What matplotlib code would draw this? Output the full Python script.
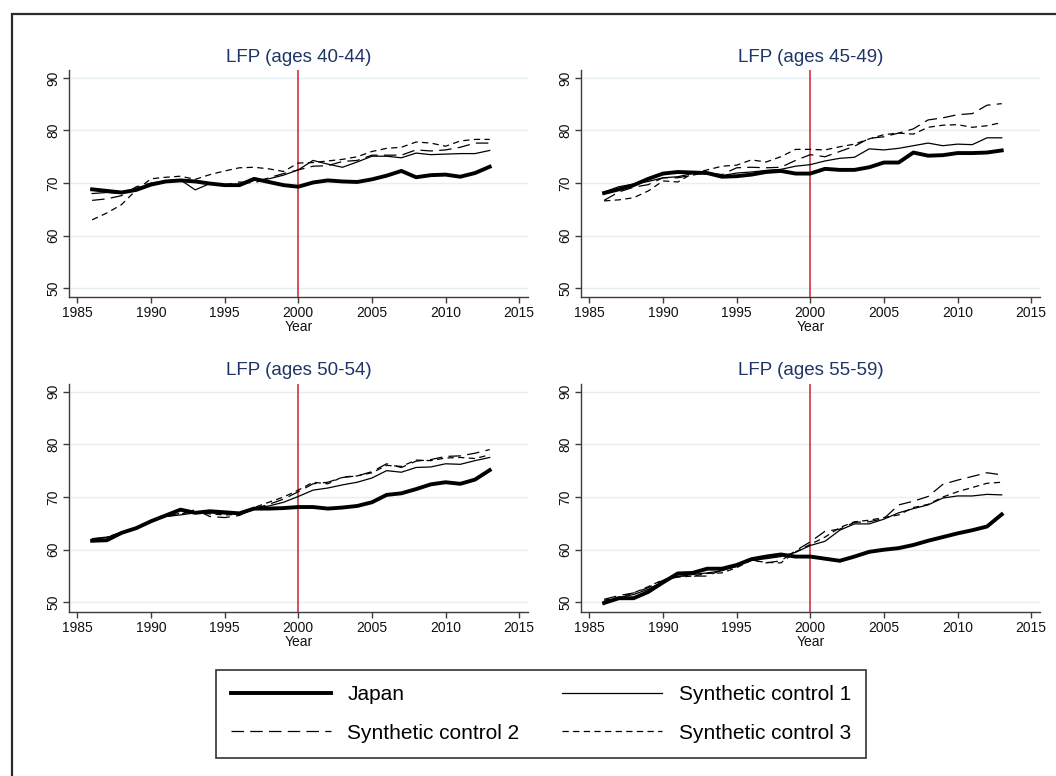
import matplotlib
matplotlib.use('Agg')
import matplotlib.pyplot as plt
from matplotlib.patches import Rectangle

plt.rcParams['font.family'] = ['Liberation Sans', 'DejaVu Sans']

years = list(range(1986, 2014))

# LFP ages 40-44
japan_40 = [68.8, 68.5, 68.2, 68.7, 69.7, 70.3, 70.5, 70.3, 69.9, 69.6, 69.6, 70.8, 70.2, 69.6,
            69.3, 70.1, 70.5, 70.3, 70.2, 70.7, 71.4, 72.3, 71.1, 71.5, 71.6, 71.2, 71.9, 73.1]
sc1_40 = [68.0, 68.2, 68.0, 69.0, 69.8, 70.4, 70.6, 68.7, 69.9, 69.5, 69.4, 70.5, 70.8, 71.5,
          72.5, 74.3, 73.6, 73.0, 74.0, 75.1, 75.1, 74.8, 75.7, 75.4, 75.5, 75.6, 75.6, 76.2]
sc2_40 = [66.7, 67.0, 67.6, 69.3, 70.0, 70.4, 70.6, 70.2, 69.8, 69.6, 70.2, 70.0, 71.0, 71.8,
          72.5, 73.2, 73.3, 74.1, 74.3, 75.3, 75.3, 75.3, 76.3, 76.1, 76.3, 76.8, 77.6, 77.6]
sc3_40 = [63.0, 64.3, 65.9, 68.7, 70.8, 71.1, 71.3, 70.7, 71.6, 72.3, 72.9, 73.0, 72.7, 72.2,
          73.8, 73.9, 74.2, 74.5, 75.0, 76.0, 76.6, 76.8, 77.8, 77.6, 77.0, 78.0, 78.3, 78.3]

# LFP ages 45-49
japan_45 = [68.1, 68.8, 69.6, 70.8, 71.8, 72.1, 72.0, 71.9, 71.2, 71.3, 71.6, 72.1, 72.3, 71.8,
            71.8, 72.7, 72.5, 72.5, 73.0, 73.9, 73.9, 75.8, 75.2, 75.3, 75.7, 75.7, 75.8, 76.2]
sc1_45 = [68.3, 69.3, 69.8, 70.3, 71.0, 71.2, 71.8, 71.9, 71.4, 71.9, 72.1, 72.4, 72.6, 73.2,
          73.5, 74.2, 74.7, 74.9, 76.5, 76.3, 76.6, 77.1, 77.6, 77.1, 77.4, 77.3, 78.6, 78.6]
sc2_45 = [66.7, 68.3, 69.2, 69.7, 71.0, 71.0, 71.5, 72.0, 71.6, 72.9, 73.0, 72.9, 73.0, 74.3,
          75.4, 75.0, 76.0, 77.0, 78.5, 78.8, 79.5, 80.3, 82.0, 82.4, 83.0, 83.2, 84.8, 85.1]
sc3_45 = [66.6, 66.8, 67.2, 68.5, 70.4, 70.2, 71.8, 72.5, 73.2, 73.4, 74.4, 74.0, 75.0, 76.4,
          76.4, 76.3, 76.9, 77.4, 78.4, 79.2, 79.5, 79.3, 80.6, 81.0, 81.1, 80.6, 80.9, 81.5]

# LFP ages 50-54
japan_50 = [61.7, 61.8, 63.2, 64.1, 65.4, 66.5, 67.6, 67.0, 67.3, 67.1, 66.9, 67.8, 67.8, 67.9,
            68.1, 68.1, 67.8, 68.0, 68.3, 69.0, 70.4, 70.7, 71.5, 72.4, 72.8, 72.5, 73.3, 75.1]
sc1_50 = [62.0, 62.3, 63.3, 64.2, 65.5, 66.3, 66.6, 67.0, 67.0, 66.8, 66.8, 67.9, 68.3, 69.0,
          70.1, 71.3, 71.7, 72.3, 72.8, 73.6, 75.0, 74.7, 75.6, 75.7, 76.3, 76.2, 76.9, 77.5]
sc2_50 = [62.1, 62.4, 63.3, 64.2, 65.4, 66.3, 66.7, 67.6, 66.3, 66.1, 66.5, 67.8, 68.6, 69.6,
          71.0, 72.5, 72.8, 73.7, 74.0, 74.8, 76.3, 75.6, 76.8, 77.1, 77.7, 77.8, 78.3, 79.0]
sc3_50 = [62.0, 62.4, 63.3, 64.2, 65.5, 66.4, 66.9, 67.1, 66.8, 66.6, 66.7, 68.0, 69.0, 70.0,
          71.3, 72.8, 72.5, 73.8, 74.0, 74.6, 76.0, 75.8, 77.0, 76.9, 77.4, 77.5, 77.3, 78.0]

# LFP ages 55-59
japan_55 = [49.9, 50.8, 50.8, 52.0, 53.8, 55.5, 55.6, 56.4, 56.4, 57.1, 58.2, 58.7, 59.1, 58.7,
            58.7, 58.3, 57.9, 58.7, 59.6, 60.0, 60.3, 60.9, 61.7, 62.4, 63.1, 63.7, 64.4, 66.7]
sc1_55 = [50.2, 50.9, 51.5, 52.5, 54.0, 54.9, 55.3, 55.6, 56.0, 56.9, 58.0, 58.3, 58.7, 59.5,
          60.8, 61.6, 63.7, 64.9, 64.9, 65.8, 67.0, 67.8, 68.5, 69.8, 70.2, 70.2, 70.5, 70.4]
sc2_55 = [50.6, 51.3, 51.8, 52.8, 54.2, 55.0, 55.0, 55.0, 56.2, 56.8, 58.1, 57.5, 57.9, 59.8,
          61.5, 63.5, 63.9, 65.2, 65.3, 65.9, 68.5, 69.2, 70.1, 72.4, 73.2, 73.9, 74.6, 74.2]
sc3_55 = [50.4, 51.0, 51.8, 53.0, 54.3, 54.8, 55.0, 55.5, 55.6, 56.6, 58.0, 57.6, 57.5, 59.6,
          61.0, 62.4, 64.2, 65.3, 65.6, 66.1, 66.6, 68.0, 68.6, 70.0, 71.0, 71.8, 72.6, 72.8]

titles = ['LFP (ages 40-44)', 'LFP (ages 45-49)', 'LFP (ages 50-54)', 'LFP (ages 55-59)']
panels = [(japan_40, sc1_40, sc2_40, sc3_40),
          (japan_45, sc1_45, sc2_45, sc3_45),
          (japan_50, sc1_50, sc2_50, sc3_50),
          (japan_55, sc1_55, sc2_55, sc3_55)]
labels = ['Japan', 'Synthetic control 1', 'Synthetic control 2', 'Synthetic control 3']
xticks = [1985, 1990, 1995, 2000, 2005, 2010, 2015]
yticks = [50, 60, 70, 80, 90]
treat_year = 2000

fig = plt.figure(figsize=(10.56, 7.76), dpi=100)

# outer frame (runs off the right and bottom edge)
fig.patches.append(Rectangle((12 / 1056, -0.05), 1.1, 1.05 - 14 / 776, transform=fig.transFigure,
                             fill=False, edgecolor='#2b2b2b', linewidth=1.6, clip_on=False))

rects = [(69 / 1056, 0.6169, 459 / 1056, 0.2929),
         (581 / 1056, 0.6169, 459 / 1056, 0.2929),
         (69 / 1056, 0.2119, 459 / 1056, 0.2937),
         (581 / 1056, 0.2119, 459 / 1056, 0.2937)]

spine_col = '#3c3c3c'
handles = None
for rect, title, (jp, s1, s2, s3) in zip(rects, titles, panels):
    ax = fig.add_axes(rect)
    for y in yticks:
        ax.axhline(y, color='#e6eff1', lw=1.0, zorder=0)
    ax.axvline(treat_year, color='#d0202f', lw=1.1, zorder=1)
    l1, = ax.plot(years, jp, color='black', lw=2.8, solid_joinstyle='round', zorder=5)
    l2, = ax.plot(years, s1, color='black', lw=0.9, zorder=4)
    l3, = ax.plot(years, s2, color='black', lw=0.9, linestyle=(0, (10, 5)), zorder=3)
    l4, = ax.plot(years, s3, color='black', lw=0.9, linestyle=(0, (5, 3.5)), zorder=3)
    handles = [l1, l2, l3, l4]

    ax.set_xlim(1984.43, 2015.6)
    ax.set_ylim(48.27, 91.5)
    ax.set_xticks(xticks)
    ax.set_yticks(yticks)
    ax.set_yticklabels([str(v) for v in yticks], rotation=90, va='center')
    ax.tick_params(direction='out', length=4, width=1.0, color=spine_col, labelsize=10,
                   labelcolor='#111111', pad=2.5)
    for s in ['top', 'right']:
        ax.spines[s].set_visible(False)
    for s in ['left', 'bottom']:
        ax.spines[s].set_color(spine_col)
        ax.spines[s].set_linewidth(1.0)
    ax.set_xlabel('Year', fontsize=10, labelpad=0, color='#111111')
    ax.set_title(title, fontsize=13.5, color='#1f3566', pad=6)

order = [0, 2, 1, 3]
leg = fig.legend([handles[i] for i in order], [labels[i] for i in order],
                 loc='center', bbox_to_anchor=(541 / 1056, 1 - 714 / 776), ncol=2,
                 fontsize=15, frameon=True, fancybox=False, edgecolor='black',
                 handlelength=4.8, handletextpad=0.8, columnspacing=2.05,
                 borderpad=0.72, labelspacing=0.92)
leg.get_frame().set_linewidth(1.2)

fig.savefig('out.png', dpi=100)
